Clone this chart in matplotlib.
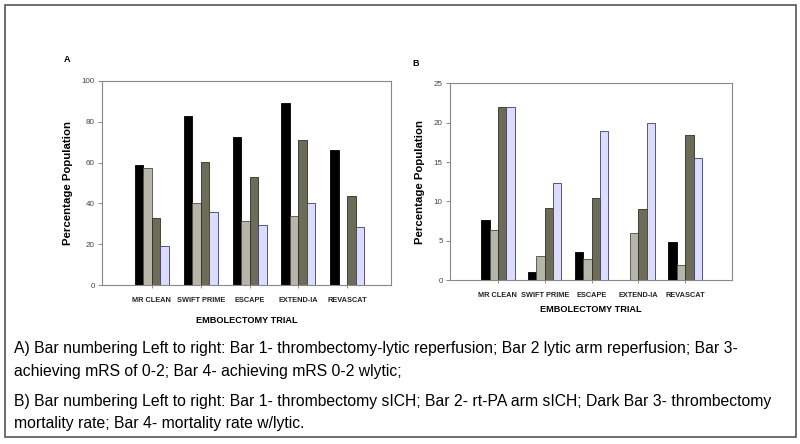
import numpy as np
import matplotlib.pyplot as plt
from matplotlib.patches import Rectangle

plt.rcParams["font.family"] = ["Liberation Sans", "DejaVu Sans"]

trials = ["MR CLEAN", "SWIFT PRIME", "ESCAPE", "EXTEND-IA", "REVASCAT"]

# panel A: reperfusion / mRS 0-2 (%)
a_bar1 = [58.7, 82.8, 72.3, 89.0, 66.0]
a_bar2 = [57.5, 40.4, 31.2, 34.0, 0.0]
a_bar3 = [32.7, 60.2, 53.0, 71.0, 43.7]
a_bar4 = [19.2, 35.6, 29.3, 40.0, 28.2]

# panel B: sICH / mortality (%)
b_bar1 = [7.7, 1.0, 3.6, 0.0, 4.9]
b_bar2 = [6.4, 3.1, 2.7, 6.0, 1.9]
b_bar3 = [22.0, 9.2, 10.4, 9.0, 18.4]
b_bar4 = [22.0, 12.4, 19.0, 20.0, 15.5]

colors = ["#000000", "#b5b5aa", "#6c6c58", "#dcdcff"]
edges = ["#000000", "#4a4a44", "#2e2e25", "#3c3c6a"]

caption_lines = [
    "A) Bar numbering Left to right: Bar 1- thrombectomy-lytic reperfusion; Bar 2 lytic arm reperfusion; Bar 3-",
    "achieving mRS of 0-2; Bar 4- achieving mRS 0-2 wlytic;",
    "B) Bar numbering Left to right: Bar 1- thrombectomy sICH; Bar 2- rt-PA arm sICH; Dark Bar 3- thrombectomy",
    "mortality rate; Bar 4- mortality rate w/lytic.",
]
caption_y = [349, 371, 401, 423]
caption_right = 768  # right end of the widest lines in the reference (px)

fig = plt.figure(figsize=(8, 4.44), dpi=100)
fig.patches.append(Rectangle((5 / 800, 1 - 437 / 444), 791 / 800, 432 / 444,
                             transform=fig.transFigure, fill=False,
                             edgecolor="#555555", linewidth=1.2))


def draw_panel(ax, series, ymax, step, width, xlim):
    x = np.arange(len(trials))
    for i, vals in enumerate(series):
        ax.bar(x + (i - 1.5) * width, vals, width, color=colors[i],
               edgecolor=edges[i], linewidth=0.6)
    ax.set_xlim(*xlim)
    ax.set_ylim(0, ymax)
    ax.set_yticks(np.arange(0, ymax + 1, step))
    ax.set_xticks(x)
    ax.set_xticklabels(trials, fontsize=5.3, fontweight="bold", color="#222222")
    ax.tick_params(axis="y", labelsize=5.8, colors="#777777", labelcolor="#444444",
                   length=3, width=0.6, pad=2)
    ax.tick_params(axis="x", length=2.5, width=0.6, colors="#777777", pad=6)
    for tl in ax.get_xticklabels():
        tl.set_color("#222222")
    for sp in ax.spines.values():
        sp.set_color("#888888")
        sp.set_linewidth(0.8)
    ax.set_ylabel("Percentage Population", fontsize=8.2, fontweight="bold", labelpad=6)
    ax.set_xlabel("EMBOLECTOMY TRIAL", fontsize=6.6, fontweight="bold")


ax_a = fig.add_axes([0.127, 0.358, 0.362, 0.460])
draw_panel(ax_a, [a_bar1, a_bar2, a_bar3, a_bar4], 100, 20, 0.174, (-1.03, 4.9))
ax_a.xaxis.labelpad = 9

ax_b = fig.add_axes([0.562, 0.369, 0.353, 0.443])
draw_panel(ax_b, [b_bar1, b_bar2, b_bar3, b_bar4], 25, 5, 0.178, (-1.03, 5.0))
ax_b.xaxis.labelpad = 4

fig.text(67 / 800, 1 - 60 / 444, "A", fontsize=6.5, fontweight="bold", ha="center", va="center")
fig.text(416 / 800, 1 - 64 / 444, "B", fontsize=6.5, fontweight="bold", ha="center", va="center")

caps = []
for line, y in zip(caption_lines, caption_y):
    caps.append(fig.text(14 / 800, 1 - y / 444, line, fontsize=11, va="center", ha="left"))

# shrink caption so the widest line ends where the reference's does
fig.canvas.draw()
r = fig.canvas.get_renderer()
w = max(t.get_window_extent(r).width for t in caps)
size = 11 * (caption_right - 14) / w
for t in caps:
    t.set_fontsize(size)

fig.savefig("out.png", dpi=100)
